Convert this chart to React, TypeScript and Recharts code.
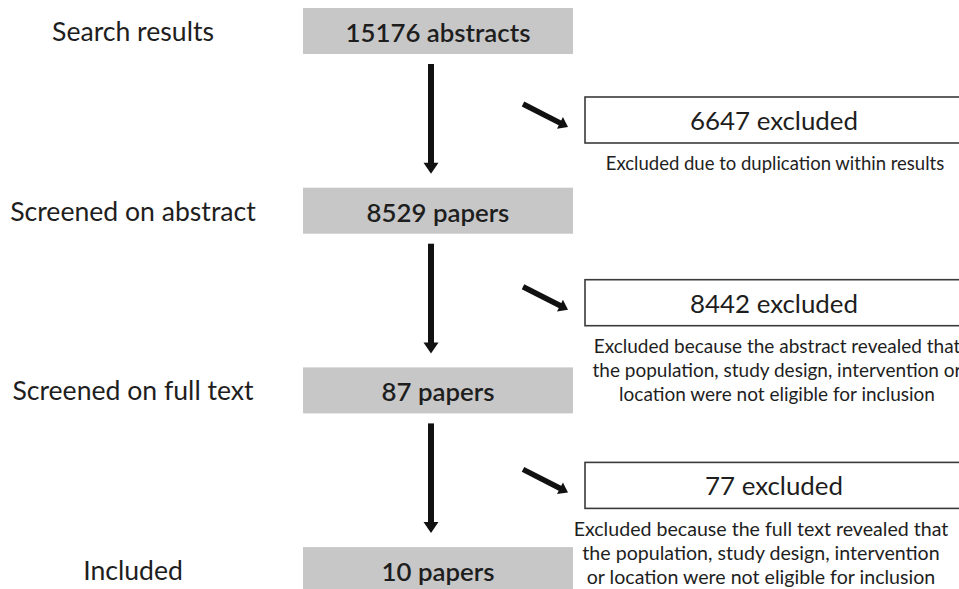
import React from 'react';
import { ComposedChart, XAxis, YAxis, Scatter, Line } from 'recharts';

// ---- data ----
const stageLabels = ['Search results', 'Screened on abstract', 'Screened on full text', 'Included'];
const stageCounts = ['15176 abstracts', '8529 papers', '87 papers', '10 papers'];
const excludedCounts = [6647, 8442, 77];
const excludedReasons = [
  ['Excluded due to duplication within results'],
  [
    'Excluded because the abstract revealed that',
    'the population, study design, intervention or',
    'location were not eligible for inclusion',
  ],
  [
    'Excluded because the full text revealed that',
    'the population, study design, intervention',
    'or location were not eligible for inclusion',
  ],
];

// ---- layout (domain units = pixels) ----
const W = 959;
const H = 589;
const FONT = 'Lato, "Open Sans", sans-serif';
const TEXT = '#1e1e1e';
const rowY = (i: number) => 31 + 179.7 * i;
const exY = (j: number) => 120 + 182.7 * j;
const LABEL_X = 133;
const BOX_X = 438;
const FLOW_X = 431;
const EX_X = 774;
const reasonX = [775, 777, 761];
const reasonSize = [18.5, 19, 19.6];

const labelPts = stageLabels.map((t, i) => ({ x: LABEL_X, y: rowY(i), text: t }));
const boxPts = stageCounts.map((t, i) => ({ x: BOX_X, y: rowY(i), text: t }));
const exPts = excludedCounts.map((n, j) => ({ x: EX_X, y: exY(j), text: `${n} excluded` }));
const reasonPts = excludedReasons.map((lines, j) => ({ x: reasonX[j], y: exY(j) + 43, lines, fs: reasonSize[j] }));

type Seg = { x1: number; y1: number; x2: number; y2: number; w: number; hl: number; hw: number };
const flowSegs: Seg[] = [0, 1, 2].map((i) => ({
  x1: FLOW_X, y1: rowY(i) + 33, x2: FLOW_X, y2: rowY(i + 1) - 37, w: 6, hl: 11, hw: 7.5,
}));
const diagSegs: Seg[] = excludedCounts.map((_, j) => ({
  x1: 523, y1: exY(j) - 16, x2: 568, y2: exY(j) + 7, w: 5.5, hl: 9, hw: 6.5,
}));
const allSegs = [...flowSegs, ...diagSegs];
const shaftData = allSegs.map((s) => {
  const dx = s.x2 - s.x1;
  const dy = s.y2 - s.y1;
  const len = Math.sqrt(dx * dx + dy * dy);
  const ex = s.x2 - (dx / len) * (s.hl - 1);
  const ey = s.y2 - (dy / len) * (s.hl - 1);
  return { w: s.w, pts: [{ x: s.x1, y: s.y1 }, { x: ex, y: ey }] };
});
const headPts = allSegs.map((s) => {
  const dx = s.x2 - s.x1;
  const dy = s.y2 - s.y1;
  const len = Math.sqrt(dx * dx + dy * dy);
  return { x: s.x2, y: s.y2, ux: dx / len, uy: dy / len, hl: s.hl, hw: s.hw };
});

const LabelShape = (p: any) => (
  <text x={p.cx} y={p.cy} textAnchor="middle" dominantBaseline="central"
    fontFamily={FONT} fontSize={26.6} fill={TEXT}>{p.payload.text}</text>
);

const BoxShape = (p: any) => (
  <g>
    <rect x={p.cx - 135} y={p.cy - 23} width={270} height={46} fill="#c7c7c7" />
    <text x={p.cx} y={p.cy + 1} textAnchor="middle" dominantBaseline="central"
      fontFamily={FONT} fontSize={25.8} fontWeight={600} fill={TEXT}>{p.payload.text}</text>
  </g>
);

const ExShape = (p: any) => (
  <g>
    <rect x={p.cx - 189} y={p.cy - 23} width={378} height={46} fill="#fff" stroke="#3a3a3a" strokeWidth={1.6} />
    <text x={p.cx} y={p.cy} textAnchor="middle" dominantBaseline="central"
      fontFamily={FONT} fontSize={25.9} fill={TEXT}>{p.payload.text}</text>
  </g>
);

const ReasonShape = (p: any) => (
  <g>
    {p.payload.lines.map((l: string, k: number) => (
      <text key={k} x={p.cx} y={p.cy + k * 23.8} textAnchor="middle" dominantBaseline="central"
        fontFamily={FONT} fontSize={p.payload.fs} fill={TEXT}>{l}</text>
    ))}
  </g>
);

const HeadShape = (p: any) => {
  const { cx, cy, payload: d } = p;
  const bx = cx - d.ux * d.hl;
  const by = cy - d.uy * d.hl;
  const nx = -d.uy;
  const ny = d.ux;
  const pts = `${cx},${cy} ${bx + nx * d.hw},${by + ny * d.hw} ${bx - nx * d.hw},${by - ny * d.hw}`;
  return <polygon points={pts} fill="#111" />;
};

export default function App() {
  return (
    <div style={{ position: 'absolute', left: 0, top: 0, width: W, height: H, background: '#fff' }}>
      <ComposedChart width={W} height={H} margin={{ top: 0, right: 0, bottom: 0, left: 0 }}>
        <XAxis type="number" dataKey="x" domain={[0, W]} hide allowDataOverflow />
        <YAxis type="number" dataKey="y" domain={[0, H]} reversed hide allowDataOverflow />
        {shaftData.map((s, k) => (
          <Line key={`s${k}`} data={s.pts} dataKey="y" type="linear" stroke="#111" strokeWidth={s.w}
            dot={false} activeDot={false} isAnimationActive={false} legendType="none" />
        ))}
        <Scatter data={headPts} shape={HeadShape} isAnimationActive={false} />
        <Scatter data={labelPts} shape={LabelShape} isAnimationActive={false} />
        <Scatter data={boxPts} shape={BoxShape} isAnimationActive={false} />
        <Scatter data={exPts} shape={ExShape} isAnimationActive={false} />
        <Scatter data={reasonPts} shape={ReasonShape} isAnimationActive={false} />
      </ComposedChart>
    </div>
  );
}
